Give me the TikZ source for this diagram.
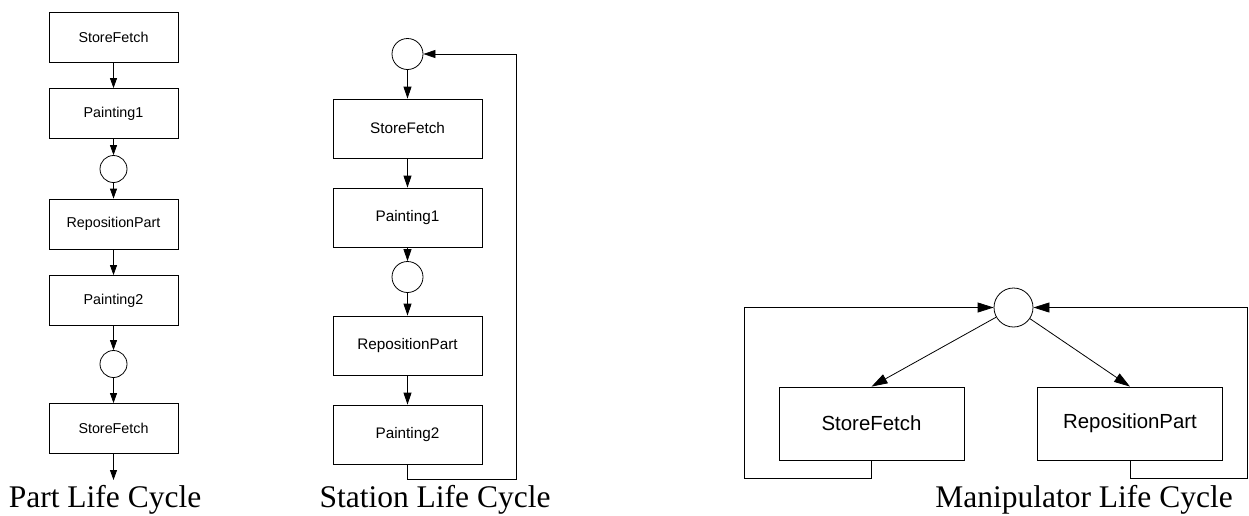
\documentclass[tikz,border=0pt]{standalone}
\usepackage{fontspec}
\setmainfont{Liberation Serif}
\newfontfamily\boxfont{Liberation Sans}
\usetikzlibrary{arrows.meta}

\begin{document}
\begin{tikzpicture}[x=1pt, y=-1pt, line width=0.8pt,
  partbox/.style={draw, minimum width=129pt, minimum height=50pt, inner sep=0pt,
    font=\boxfont\fontsize{14.3}{16}\selectfont},
  stationbox/.style={draw, minimum width=149pt, minimum height=59pt, inner sep=0pt,
    font=\boxfont\fontsize{15.3}{17}\selectfont},
  manipbox/.style={draw, minimum width=185pt, minimum height=73pt, inner sep=0pt,
    font=\boxfont\fontsize{20.4}{23}\selectfont},
  waitstate/.style={draw, circle, inner sep=0pt, minimum size=#1},
  partarrow/.style={-{Triangle[length=10pt,width=7pt]}},
  stationarrow/.style={-{Triangle[length=12pt,width=8pt]}},
  maniparrow/.style={-{Triangle[length=16pt,width=10pt]}},
  caption/.style={anchor=base, font=\fontsize{31.5}{36}\selectfont}]
  \useasboundingbox (0,0) rectangle (1249,515);

  % part life cycle
  \node[partbox] (p1) at (113.5,37) {StoreFetch};
  \node[partbox] (p2) at (113.5,113.5) {Painting1};
  \node[waitstate=27pt] (pc1) at (113.5,169) {};
  \node[partbox] (p3) at (113.5,224) {RepositionPart};
  \node[partbox] (p4) at (113.5,300.5) {Painting2};
  \node[waitstate=27pt] (pc2) at (113.5,364) {};
  \node[partbox] (p5) at (113.5,428.5) {StoreFetch};
  \coordinate (pend) at (113.5,480);
  \draw[partarrow] (p1) -- (p2);
  \draw[partarrow] (p2) -- (pc1);
  \draw[partarrow] (pc1) -- (p3);
  \draw[partarrow] (p3) -- (p4);
  \draw[partarrow] (p4) -- (pc2);
  \draw[partarrow] (pc2) -- (p5);
  \draw[partarrow] (p5) -- (pend);
  \node[caption] (plabel) at (105,507) {Part Life Cycle};

  % station life cycle
  \node[waitstate=31pt] (sc1) at (407.5,54) {};
  \node[stationbox] (s1) at (407.5,128.5) {StoreFetch};
  \node[stationbox] (s2) at (407.5,217.5) {Painting1};
  \node[waitstate=31pt] (sc2) at (407.5,277) {};
  \node[stationbox] (s3) at (407.5,345.5) {RepositionPart};
  \node[stationbox] (s4) at (407.5,434.5) {Painting2};
  \coordinate (sback) at (516,479);
  \draw[stationarrow] (sc1) -- (s1);
  \draw[stationarrow] (s1) -- (s2);
  \draw[stationarrow] (s2) -- (sc2);
  \draw[stationarrow] (sc2) -- (s3);
  \draw[stationarrow] (s3) -- (s4);
  \draw[stationarrow] (s4.south) |- (sback) |- (sc1.east);
  \node[caption] (slabel) at (435,507) {Station Life Cycle};

  % manipulator life cycle
  \node[waitstate=39pt] (mc) at (1013.5,307.5) {};
  \node[manipbox] (m1) at (871.5,423.5) {StoreFetch};
  \node[manipbox] (m2) at (1130,423.5) {RepositionPart};
  \coordinate (mlback) at (744,478);
  \coordinate (mrback) at (1247,478);
  \draw[maniparrow] (mc) -- (m1.north);
  \draw[maniparrow] (mc) -- (m2.north);
  \draw[maniparrow] (m1.south) |- (mlback) |- (mc.west);
  \draw[maniparrow] (m2.south) |- (mrback) |- (mc.east);
  \node[caption] (mlabel) at (1084,507) {Manipulator Life Cycle};
\end{tikzpicture}
\end{document}
